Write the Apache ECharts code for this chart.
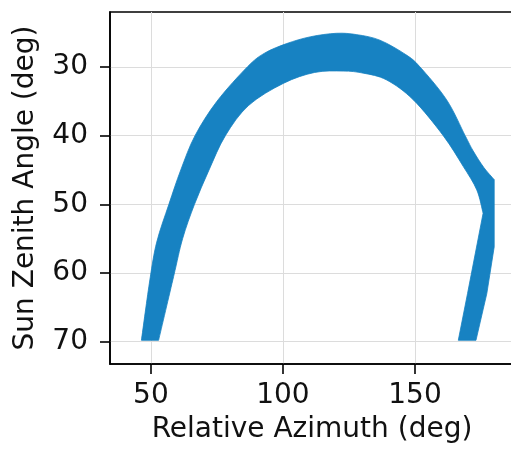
<!DOCTYPE html>
<html>
<head>
<meta charset="utf-8">
<title>Sun zenith vs relative azimuth</title>
<style>
  html, body { margin: 0; padding: 0; background: #fff; }
  #main { width: 511px; height: 450px; }
</style>
</head>
<body>
<div id="main"></div>
<script src="https://cdn.jsdelivr.net/npm/echarts@6/dist/echarts.min.js"></script>
<script>
// outer edge of the arch: bottom of left leg, over the top, to where it hits 180 deg
var arcOuterAz  = [46.4, 49.6, 52.2, 56.8, 61.3, 66.7, 75.0, 86.5, 93.0, 101.4, 110.5, 120.3, 128.0, 136.7, 146.5, 151.9, 162.0, 169.0, 172.0, 176.0, 180.0];
var arcOuterSza = [69.8, 61.0, 55.5, 50.0, 45.0, 40.0, 35.0, 30.0, 28.0, 26.6, 25.6, 25.1, 25.3, 26.1, 28.2, 30.0, 34.8, 40.0, 42.2, 44.6, 46.4];
// outer edge of the folded right leg, down to the bottom
var legOuterAz  = [180.0, 180.0, 177.2, 173.1];
var legOuterSza = [46.4, 56.2, 63.0, 69.8];
// inner edge of the right leg, bottom up to the fold
var legInnerAz  = [166.4, 169.9, 175.8];
var legInnerSza = [69.8, 63.0, 51.3];
// inner edge of the arch, from the fold back to bottom of left leg
var arcInnerAz  = [175.8, 173.4, 168.3, 160.7, 149.4, 139.3, 130.4, 122.8, 112.0, 100.1, 87.0, 78.2, 72.0, 66.5, 62.0, 58.6, 52.9];
var arcInnerSza = [51.3, 47.9, 44.5, 40.0, 34.8, 31.9, 30.9, 30.6, 30.8, 32.4, 35.6, 40.0, 45.0, 50.0, 55.0, 60.5, 69.8];

var xTicks = [50, 100, 150];
var yTicks = [30, 40, 50, 60, 70];

function pairs(az, sza) {
    return az.map(function (a, i) { return [a, sza[i]]; });
}
var arcOuter = pairs(arcOuterAz, arcOuterSza);
var legOuter = pairs(legOuterAz, legOuterSza);
var legInner = pairs(legInnerAz, legInnerSza);
var arcInner = pairs(arcInnerAz, arcInnerSza);

// smooth run through pixel points (catmull-rom as cubic bezier), pen already at p[0]
function smoothRun(p) {
    var d = '';
    for (var i = 0; i < p.length - 1; i++) {
        var p0 = p[i - 1] || p[i], p1 = p[i], p2 = p[i + 1], p3 = p[i + 2] || p[i + 1];
        var c1 = [p1[0] + (p2[0] - p0[0]) / 6, p1[1] + (p2[1] - p0[1]) / 6];
        var c2 = [p2[0] - (p3[0] - p1[0]) / 6, p2[1] - (p3[1] - p1[1]) / 6];
        d += 'C' + c1[0] + ',' + c1[1] + ' ' + c2[0] + ',' + c2[1] + ' ' + p2[0] + ',' + p2[1];
    }
    return d;
}
function lineRun(p) {
    var d = '';
    for (var i = 1; i < p.length; i++) d += 'L' + p[i][0] + ',' + p[i][1];
    return d;
}

var font = 'DejaVu Sans';
var myChart = echarts.init(document.getElementById('main'));

var option = {
    animation: false,
    grid: {
        left: 110, top: 12, width: 404, bottom: 86,
        outerBoundsMode: 'none',
        show: true, borderColor: '#000', borderWidth: 1.6
    },
    xAxis: {
        type: 'value',
        min: 34.5, max: 187.5,
        name: 'Relative Azimuth (deg)',
        nameLocation: 'middle',
        nameGap: 52,
        nameTextStyle: { fontFamily: font, fontSize: 28, color: '#111' },
        axisLine: { lineStyle: { color: '#000', width: 1.6 } },
        axisTick: { customValues: xTicks, length: 10, lineStyle: { color: '#000', width: 1.6 } },
        axisLabel: { customValues: xTicks, margin: 18, fontFamily: font, fontSize: 28, color: '#111' },
        splitLine: { show: true, lineStyle: { color: '#dcdcdc', width: 1 } }
    },
    yAxis: {
        type: 'value',
        inverse: true,
        min: 22.0, max: 73.25,
        name: 'Sun Zenith Angle (deg)',
        nameLocation: 'middle',
        nameGap: 70,
        nameTextStyle: { fontFamily: font, fontSize: 28, color: '#111' },
        axisLine: { show: true, lineStyle: { color: '#000', width: 1.6 } },
        axisTick: { show: true, customValues: yTicks, length: 10, lineStyle: { color: '#000', width: 1.6 } },
        axisLabel: { customValues: yTicks, margin: 22, fontFamily: font, fontSize: 28, color: '#111' },
        splitLine: { show: true, lineStyle: { color: '#dcdcdc', width: 1 } }
    },
    series: [{
        type: 'custom',
        data: [0],
        renderItem: function (params, api) {
            var c = function (list) { return list.map(function (p) { return api.coord(p); }); };
            var ao = c(arcOuter), lo = c(legOuter), li = c(legInner), ai = c(arcInner);
            var d = 'M' + ao[0][0] + ',' + ao[0][1] + smoothRun(ao) + lineRun(lo) +
                    'L' + li[0][0] + ',' + li[0][1] + lineRun(li) + smoothRun(ai) + 'Z';
            return {
                type: 'path',
                shape: { pathData: d },
                style: { fill: '#1782c2', stroke: '#1782c2', lineWidth: 0.8 }
            };
        }
    }]
};

myChart.setOption(option);
</script>
</body>
</html>
